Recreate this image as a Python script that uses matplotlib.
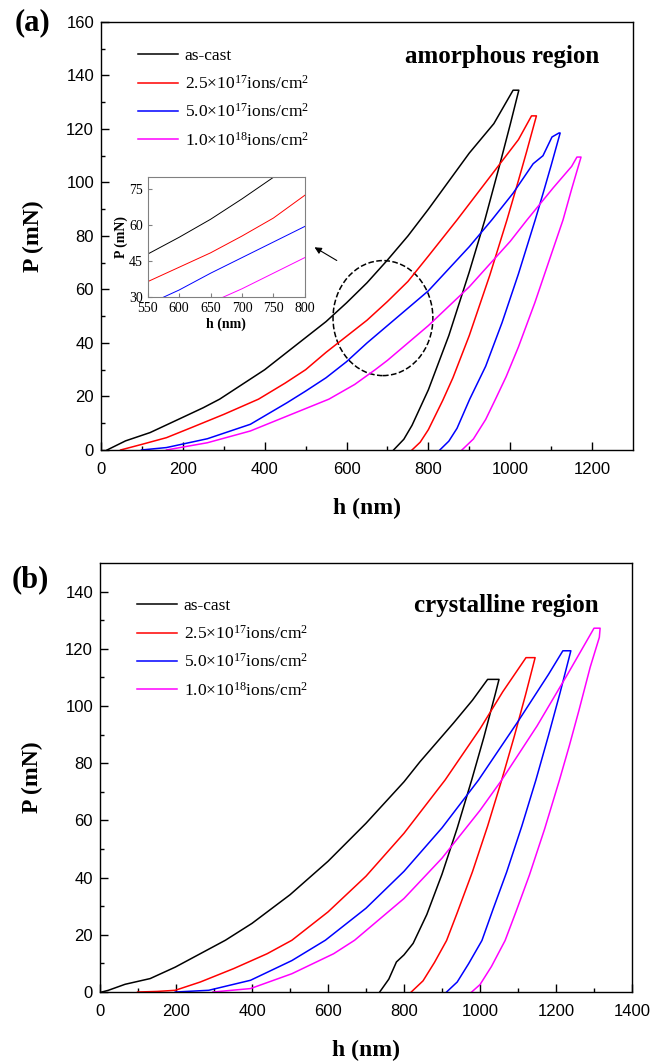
import matplotlib
matplotlib.use('Agg')
import matplotlib.pyplot as plt
from matplotlib.patches import Ellipse

plt.rcParams['mathtext.fontset'] = 'custom'
plt.rcParams['mathtext.rm'] = 'Liberation Serif'
plt.rcParams['mathtext.it'] = 'Liberation Serif:italic'
plt.rcParams['mathtext.bf'] = 'Liberation Serif:bold'

labels = ['as-cast',
          '2.5×10$^{17}$ions/cm$^{2}$',
          '5.0×10$^{17}$ions/cm$^{2}$',
          '1.0×10$^{18}$ions/cm$^{2}$']
colors = ['black', 'red', 'blue', 'magenta']

# (a) amorphous region: loading branch then unloading branch, h in nm, P in mN
amo_h = [
    [15, 60, 120, 190, 250, 290, 400, 500, 550, 600, 650, 700, 750, 800, 900, 960, 1007, 1021,
     1000, 975, 938, 900, 850, 800, 760, 740, 715],
    [48, 100, 160, 220, 300, 385, 450, 500, 550, 600, 650, 700, 750, 800, 870, 975, 1020, 1052, 1064,
     1040, 1020, 992, 950, 900, 860, 835, 800, 780, 760],
    [99, 160, 260, 365, 455, 500, 550, 575, 600, 650, 700, 750, 800, 900, 955, 1007, 1056, 1080, 1102, 1119, 1122,
     1100, 1080, 1061, 1020, 980, 940, 901, 870, 850, 828],
    [160, 260, 365, 465, 557, 620, 670, 700, 750, 800, 900, 1000, 1041, 1105, 1150, 1163, 1173,
     1150, 1129, 1100, 1060, 1020, 990, 964, 940, 910, 882],
]
amo_p = [
    [0, 3.4, 6.5, 11.5, 15.8, 19, 30, 42, 48, 55, 62.5, 71, 80, 90, 111, 122, 134.5, 134.5,
     121.7, 107, 86, 66.6, 42.8, 22.5, 9.2, 4, 0],
    [0, 2.1, 4.6, 8.3, 13.3, 19, 25, 30, 36.5, 42.5, 48.5, 55.5, 63, 72.5, 86, 107, 116, 124.9, 124.9,
     111.5, 100.7, 86, 65.3, 42.8, 27, 18.5, 7.6, 2.9, 0],
    [0, 0.9, 4.2, 9.6, 17.7, 22, 27, 30, 33, 40, 46.5, 53, 59.5, 76, 86, 96, 107, 110, 117, 118.5, 118.5,
     106.4, 95.8, 86, 65.8, 47.6, 31.3, 19, 8.1, 3.3, 0],
    [0, 2.7, 7.1, 13.3, 19, 24.5, 30, 33.5, 40, 46.5, 61, 78, 86, 98, 106, 109.5, 109.5,
     97.5, 86, 73, 55, 38.5, 27.4, 19, 11.4, 4.1, 0],
]

# (b) crystalline region
cry_h = [
    [5, 22, 66, 132, 198, 264, 330, 400, 500, 600, 700, 800, 842, 930, 980, 1020, 1050,
     1040, 1010, 978, 940, 900, 860, 824, 800, 780, 760, 736],
    [99, 150, 198, 264, 352, 440, 505, 600, 700, 800, 908, 1000, 1060, 1121, 1145,
     1140, 1120, 1090, 1057, 1020, 980, 940, 912, 880, 850, 819],
    [198, 286, 396, 505, 593, 700, 800, 900, 996, 1100, 1180, 1218, 1239,
     1235, 1210, 1180, 1147, 1110, 1070, 1035, 1005, 970, 940, 912],
    [297, 396, 505, 615, 670, 800, 900, 1000, 1057, 1150, 1230, 1300, 1316,
     1314, 1290, 1260, 1235, 1209, 1170, 1130, 1095, 1066, 1030, 1000, 978],
]
cry_p = [
    [0, 0.6, 2.7, 4.7, 8.7, 13.4, 18.1, 24, 34, 45.7, 59, 73.5, 80.5, 94, 102, 109.3, 109.3,
     104.1, 89, 74.1, 57.3, 41.2, 27.1, 17, 13, 10.5, 4.5, 0],
    [0, 0.2, 0.6, 3.5, 8.2, 13.4, 18.1, 28, 40.5, 55.5, 74.1, 92, 105, 116.9, 116.9,
     114.3, 104, 89.3, 74.1, 58, 42, 27.7, 18, 10.3, 3.9, 0],
    [0, 0.6, 4.1, 11, 18.1, 29.3, 42.2, 57.4, 74.1, 94.6, 111, 119.3, 119.3,
     117.2, 104.3, 89.6, 74.1, 58, 41.9, 29.2, 18, 9.9, 3.5, 0],
    [0, 1.2, 6.4, 13.4, 18.1, 32.7, 46.8, 63.5, 74.1, 93, 111, 127.2, 127.2,
     124, 113.6, 98.3, 86.1, 74.1, 57, 40.9, 28.2, 18, 8.9, 2.6, 0],
]

serif = 'Liberation Serif'
sans = 'Liberation Sans'

fig = plt.figure(figsize=(6.54, 10.62), dpi=100)
ax1 = fig.add_axes([0.1544, 0.5763, 0.8135, 0.4030])
ax2 = fig.add_axes([0.1529, 0.0659, 0.8135, 0.4040])


def style_axes(ax, xmax, ymax, yticks):
    ax.set_xlim(0, xmax)
    ax.set_ylim(0, ymax)
    ax.set_xticks(range(0, xmax + 1, 200))
    ax.set_xticks(range(100, xmax, 200), minor=True)
    ax.set_yticks(yticks)
    ax.set_yticks(range(10, ymax, 20), minor=True)
    ax.tick_params(which='both', direction='in', top=False, right=False,
                   width=1.0, labelsize=12)
    ax.tick_params(which='major', length=6)
    ax.tick_params(which='minor', length=3)
    ax.tick_params(axis='x', pad=8.5)
    ax.tick_params(axis='y', pad=5)
    for t in ax.get_xticklabels() + ax.get_yticklabels():
        t.set_family(sans)
    for s in ax.spines.values():
        s.set_linewidth(1.0)
    ax.set_xlabel('h (nm)', family=serif, fontweight='bold', fontsize=17, labelpad=15)
    ax.set_ylabel('P (mN)', family=serif, fontweight='bold', fontsize=17, labelpad=16)


for ax, hs, ps, ytop in [(ax1, amo_h, amo_p, 0.955), (ax2, cry_h, cry_p, 0.934)]:
    for h, p, c, lab in zip(hs, ps, colors, labels):
        ax.plot(h, p, color=c, lw=1.1, label=lab)
    ax.legend(loc='upper left', bbox_to_anchor=(0.056, ytop), frameon=False,
              prop={'family': serif, 'size': 12.5}, handlelength=2.3,
              handletextpad=0.4, labelspacing=0.6, borderaxespad=0)

style_axes(ax1, 1300, 160, range(0, 161, 20))
style_axes(ax2, 1400, 150, range(0, 141, 20))

ax1.text(0.937, 0.92, 'amorphous region', transform=ax1.transAxes, ha='right', va='center',
         family=serif, fontweight='bold', fontsize=18)
ax2.text(0.937, 0.9, 'crystalline region', transform=ax2.transAxes, ha='right', va='center',
         family=serif, fontweight='bold', fontsize=18)

fig.text(0.05, 0.979, '(a)', ha='center', va='center', family=serif, fontweight='bold', fontsize=22)
fig.text(0.046, 0.454, '(b)', ha='center', va='center', family=serif, fontweight='bold', fontsize=22)

# dashed circle around the zoomed range and arrow pointing to the inset
ax1.add_patch(Ellipse((689, 49.3), 244, 43, fill=False, ls='--', lw=1.1, color='black'))
ax1.annotate('', xy=(516, 76.3), xytext=(582, 70.3),
             arrowprops=dict(arrowstyle='-|>', color='black', lw=0.8, mutation_scale=10))

ins = ax1.inset_axes([0.088, 0.357, 0.295, 0.280])
for h, p, c in zip(amo_h, amo_p, colors):
    ins.plot(h, p, color=c, lw=0.7)
ins.set_xlim(550, 800)
ins.set_ylim(30, 80)
ins.set_xticks(range(550, 801, 50))
ins.set_yticks([30, 45, 60, 75])
ins.tick_params(direction='in', labelsize=10, length=3, color='gray')
for t in ins.get_xticklabels() + ins.get_yticklabels():
    t.set_family(serif)
for s in ins.spines.values():
    s.set_color('gray')
    s.set_linewidth(0.8)
ins.set_xlabel('h (nm)', family=serif, fontweight='bold', fontsize=10, labelpad=2)
ins.set_ylabel('P (mN)', family=serif, fontweight='bold', fontsize=10, labelpad=1)

fig.savefig('out.png', dpi=100)
